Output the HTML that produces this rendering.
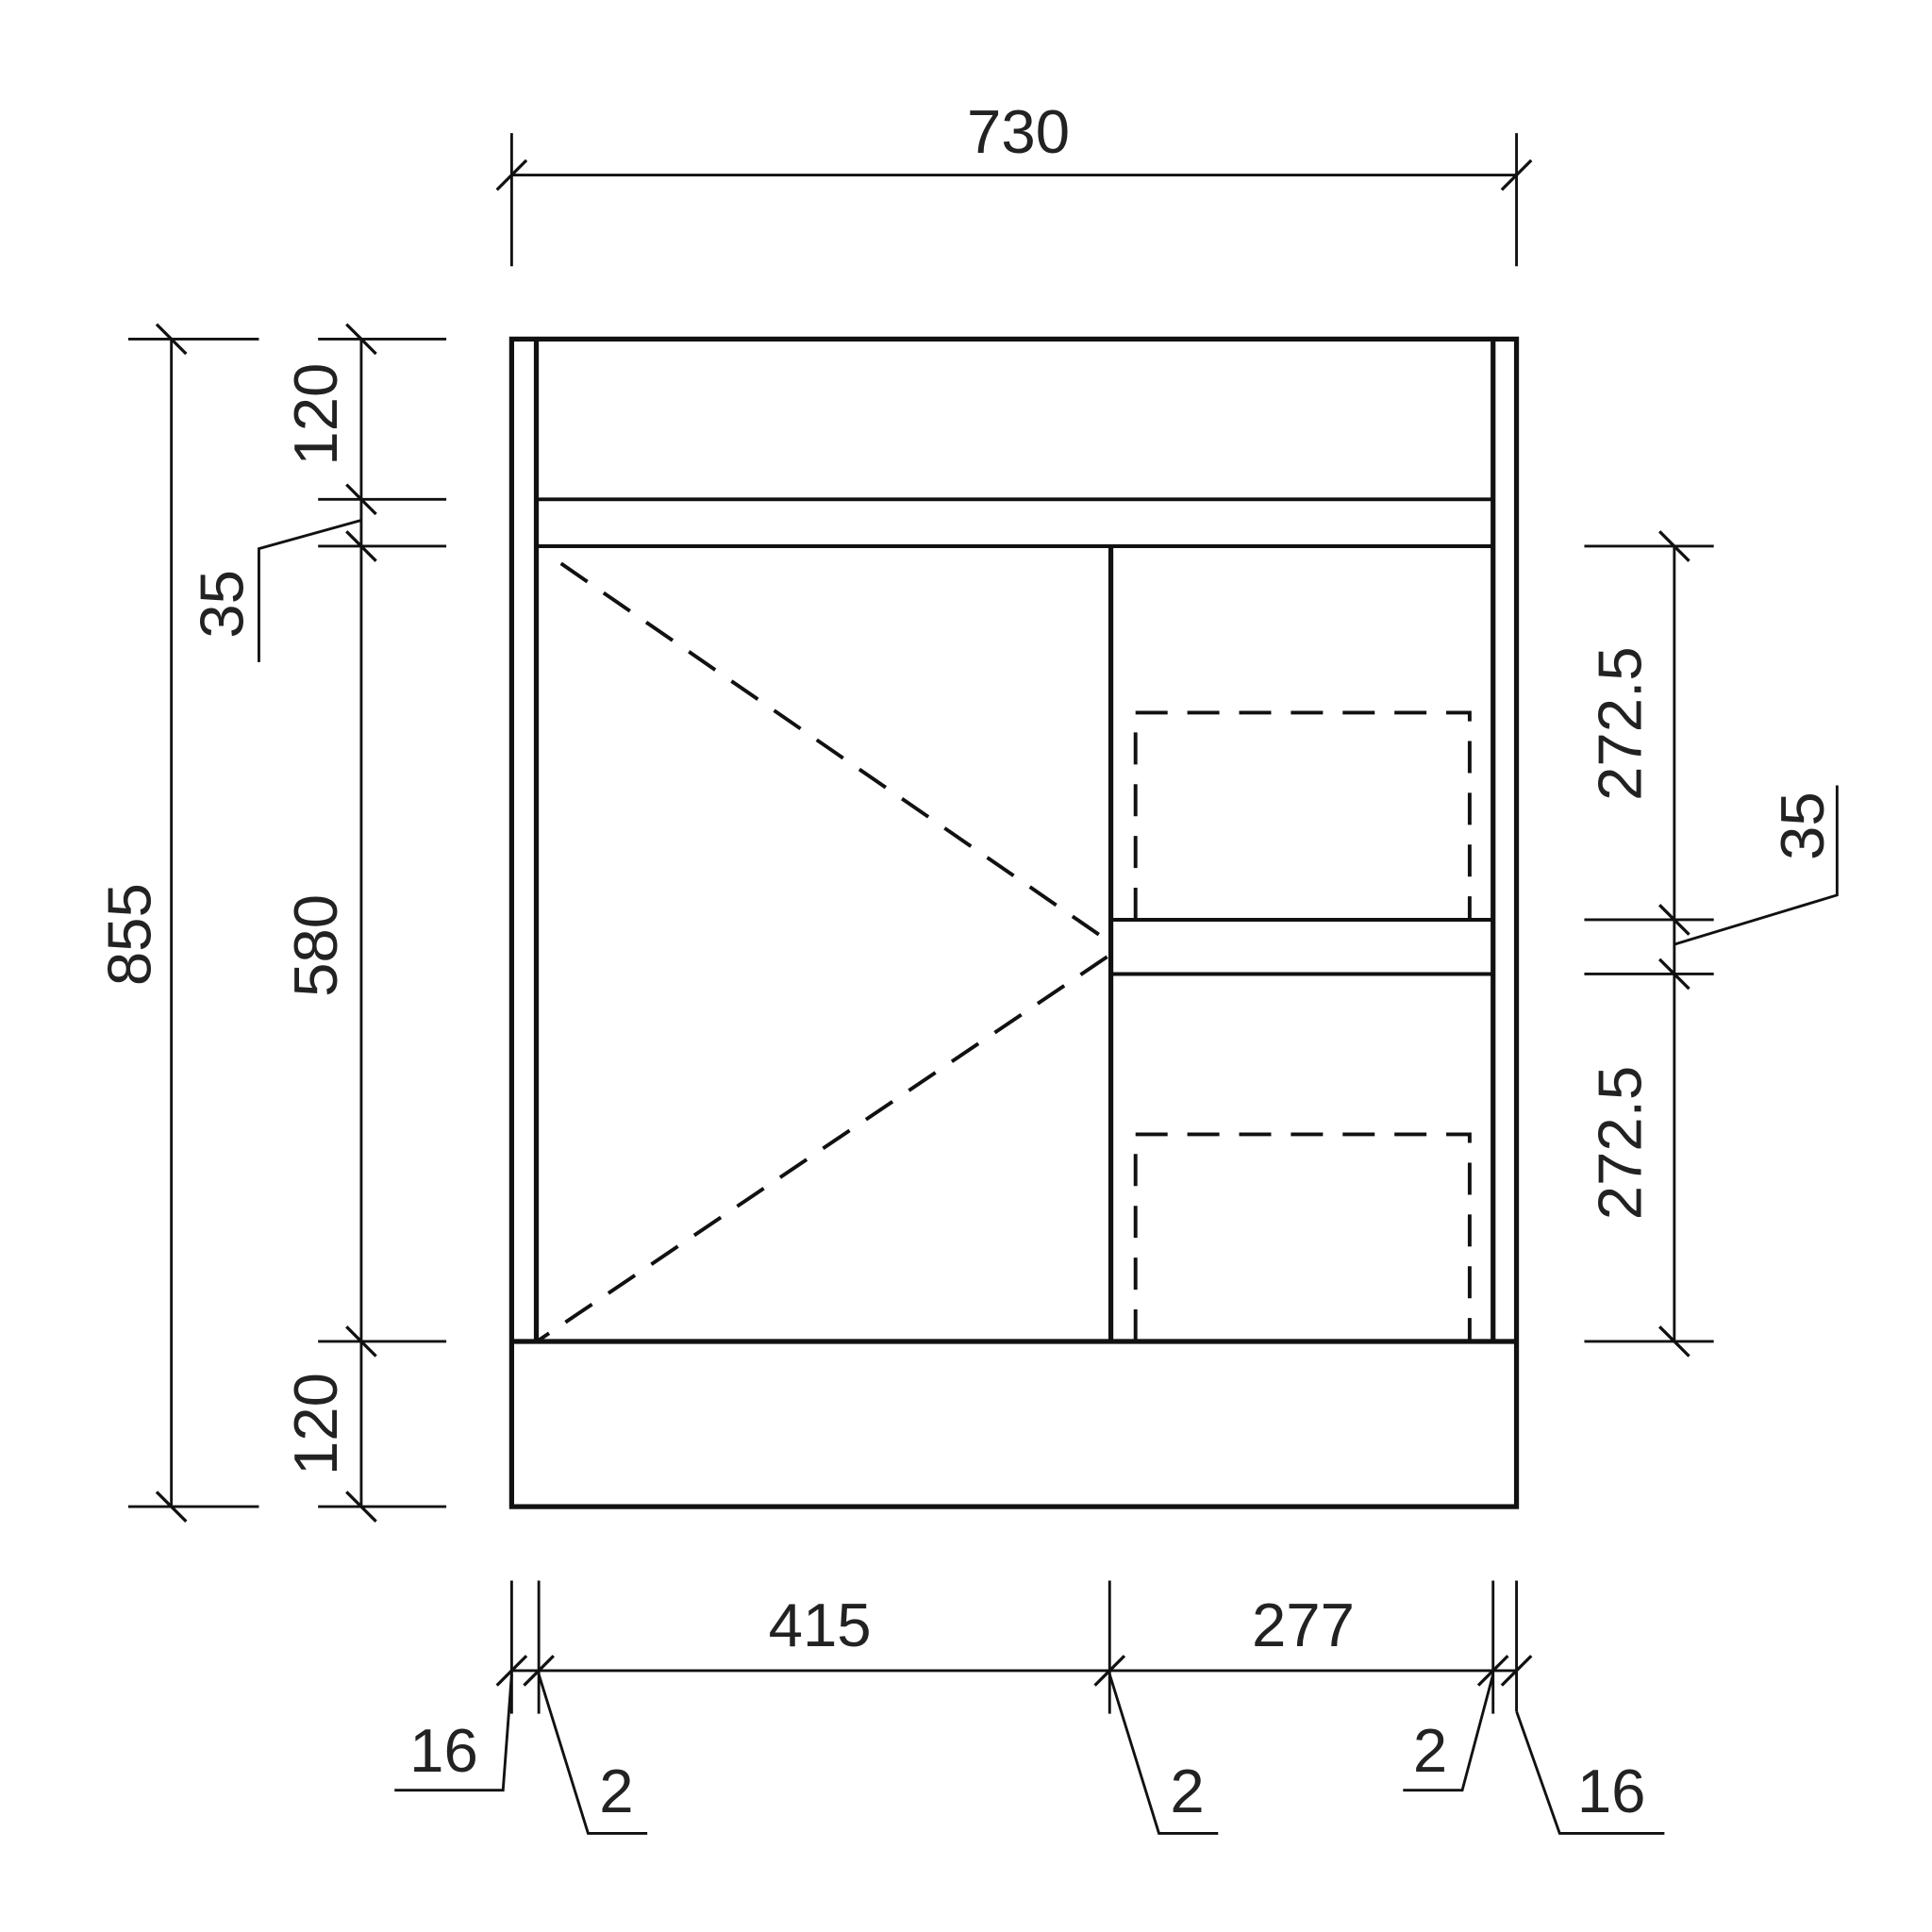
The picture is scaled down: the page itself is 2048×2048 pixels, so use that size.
<!DOCTYPE html>
<html><head><meta charset="utf-8"><style>html,body{margin:0;padding:0;background:#fff}svg{display:block}</style></head>
<body>
<svg width="2048" height="2048" viewBox="0 0 1567 1567" xmlns="http://www.w3.org/2000/svg">
<g fill="none" stroke="#111" stroke-linecap="butt">
<g stroke-width="4">
<rect x="415" y="275" width="815" height="947"/>
<line x1="435" y1="275" x2="435" y2="1088"/>
<line x1="1211" y1="275" x2="1211" y2="1088"/>
<line x1="415" y1="1088" x2="1230" y2="1088"/>
<line x1="901" y1="443" x2="901" y2="1088"/>
</g>
<g stroke-width="3">
<line x1="435" y1="405" x2="1211" y2="405"/>
<line x1="435" y1="443" x2="1211" y2="443"/>
<line x1="901" y1="746" x2="1211" y2="746"/>
<line x1="901" y1="790" x2="1211" y2="790"/>
</g>
<g stroke-width="3" stroke-dasharray="26,16">
<line x1="455" y1="457" x2="900" y2="764"/>
<line x1="898" y1="776" x2="437" y2="1087"/>
<polyline points="921,746 921,578 1192,578 1192,746"/>
<polyline points="921,1088 921,920 1192,920 1192,1088"/>
</g>
<g stroke-width="2.2">
<line x1="415" y1="142" x2="1230" y2="142"/>
<line x1="415" y1="108" x2="415" y2="216"/>
<line x1="1230" y1="108" x2="1230" y2="216"/>
<line x1="139" y1="275" x2="139" y2="1222"/>
<line x1="104" y1="275" x2="210" y2="275"/>
<line x1="104" y1="1222" x2="210" y2="1222"/>
<line x1="293" y1="275" x2="293" y2="1222"/>
<line x1="258" y1="275" x2="362" y2="275"/>
<line x1="258" y1="405" x2="362" y2="405"/>
<line x1="258" y1="443" x2="362" y2="443"/>
<line x1="258" y1="1088" x2="362" y2="1088"/>
<line x1="258" y1="1222" x2="362" y2="1222"/>
<polyline points="293,422 210,445 210,537"/>
<line x1="1358" y1="443" x2="1358" y2="1088"/>
<line x1="1285" y1="443" x2="1390" y2="443"/>
<line x1="1285" y1="746" x2="1390" y2="746"/>
<line x1="1285" y1="790" x2="1390" y2="790"/>
<line x1="1285" y1="1088" x2="1390" y2="1088"/>
<polyline points="1358,766 1490,726 1490,637"/>
<line x1="415" y1="1355" x2="1230" y2="1355"/>
<line x1="415" y1="1282" x2="415" y2="1390"/>
<line x1="437" y1="1282" x2="437" y2="1390"/>
<line x1="900" y1="1282" x2="900" y2="1390"/>
<line x1="1211" y1="1282" x2="1211" y2="1390"/>
<line x1="1230" y1="1282" x2="1230" y2="1388"/>
<polyline points="415,1358 408,1452 320,1452"/>
<polyline points="437,1358 477,1487 525,1487"/>
<polyline points="900,1358 940,1487 988,1487"/>
<polyline points="1211,1358 1186,1452 1138,1452"/>
<polyline points="1230,1388 1265,1487 1350,1487"/>
</g>
<g stroke-width="2.5">
<line x1="403" y1="154" x2="427" y2="130"/>
<line x1="1218" y1="154" x2="1242" y2="130"/>
<line x1="127" y1="263" x2="151" y2="287"/>
<line x1="127" y1="1210" x2="151" y2="1234"/>
<line x1="281" y1="263" x2="305" y2="287"/>
<line x1="281" y1="393" x2="305" y2="417"/>
<line x1="281" y1="431" x2="305" y2="455"/>
<line x1="281" y1="1076" x2="305" y2="1100"/>
<line x1="281" y1="1210" x2="305" y2="1234"/>
<line x1="1346" y1="431" x2="1370" y2="455"/>
<line x1="1346" y1="734" x2="1370" y2="758"/>
<line x1="1346" y1="778" x2="1370" y2="802"/>
<line x1="1346" y1="1076" x2="1370" y2="1100"/>
<line x1="403" y1="1367" x2="427" y2="1343"/>
<line x1="425" y1="1367" x2="449" y2="1343"/>
<line x1="888" y1="1367" x2="912" y2="1343"/>
<line x1="1199" y1="1367" x2="1223" y2="1343"/>
<line x1="1218" y1="1367" x2="1242" y2="1343"/>
</g>
</g>
<g font-family="Liberation Sans, sans-serif" font-size="50" fill="#222" text-anchor="middle">
<text x="826" y="124">730</text>
<text x="665" y="1335">415</text>
<text x="1057" y="1335">277</text>
<text x="360" y="1437">16</text>
<text x="500" y="1470">2</text>
<text x="963" y="1470">2</text>
<text x="1160" y="1437">2</text>
<text x="1307" y="1470">16</text>
<text transform="translate(122,758) rotate(-90)">855</text>
<text transform="translate(273,336) rotate(-90)">120</text>
<text transform="translate(273,767) rotate(-90)">580</text>
<text transform="translate(273,1155) rotate(-90)">120</text>
<text transform="translate(197,490) rotate(-90)">35</text>
<text transform="translate(1331,587) rotate(-90)">272.5</text>
<text transform="translate(1331,927) rotate(-90)">272.5</text>
<text transform="translate(1479,670) rotate(-90)">35</text>
</g>
</svg>
</body></html>
